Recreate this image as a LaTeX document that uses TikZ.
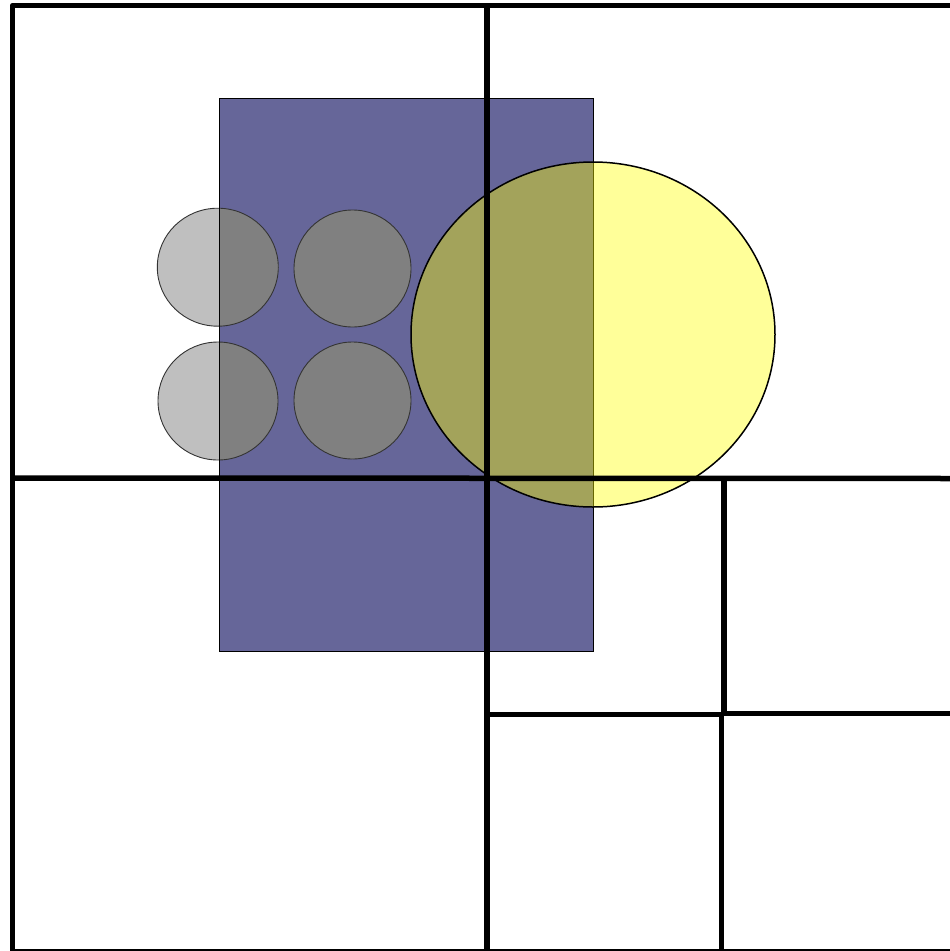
\documentclass[tikz,border=0pt]{standalone}
\definecolor{bluefill}{HTML}{666699}
\definecolor{lightgrayfill}{HTML}{BFBFBF}
\definecolor{midgrayfill}{HTML}{808080}
\definecolor{ringgray}{HTML}{333333}
\definecolor{pureyellow}{RGB}{255,255,0}
\begin{document}
\begin{tikzpicture}[x=1pt,y=-1pt,
  gridline/.style={line width=5.5pt, black, line join=round},
  thinedge/.style={line width=1pt, black},
  ringedge/.style={line width=0.9pt, ringgray}]
\useasboundingbox (0,0) rectangle (950,951);
\fill[white] (0,0) rectangle (950,951);
% blue rectangle
\fill[bluefill] (219.3,98.7) rectangle (593.3,651.7);
% gray circles
\foreach \cx/\cy/\rx/\ry in {217.8/267.2/60.5/59, 352.5/268.5/58.5/58.5, 218/401/60/59, 352.5/400.5/58.5/58.5} {
  \fill[lightgrayfill] (\cx,\cy) ellipse [x radius=\rx, y radius=\ry];
  \begin{scope}
    \clip (219.3,98.7) rectangle (593.3,651.7);
    \fill[midgrayfill] (\cx,\cy) ellipse [x radius=\rx, y radius=\ry];
  \end{scope}
  \draw[ringedge] (\cx,\cy) ellipse [x radius=\rx, y radius=\ry];
}
\draw[thinedge] (219.3,98.7) rectangle (593.3,651.7);
% yellow circle
\fill[pureyellow, fill opacity=0.4] (593,334.5) ellipse [x radius=182, y radius=172.5];
\draw[line width=1.5pt, black] (593,334.5) ellipse [x radius=182, y radius=172.5];
% grid lines
\draw[gridline] (12.5,955) -- (12.5,5.5) -- (955,5.5);
\draw[gridline] (487,5.5) -- (487,955);
\draw[gridline] (12.5,478) -- (955,478.5);
\draw[gridline] (724,478.5) -- (724,714);
\draw[gridline] (721.5,714) -- (721.5,955);
\draw[gridline] (487,714.5) -- (723,714.5);
\draw[gridline] (723,713.5) -- (955,713.5);
\draw[gridline] (12.5,952) -- (955,952);
\end{tikzpicture}
\end{document}
